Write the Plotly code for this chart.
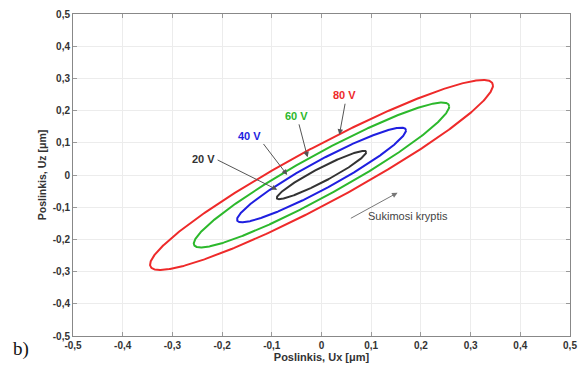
import numpy as np
import plotly.graph_objects as go

# Ellipse parameters (Ux amplitude, Uz amplitude, phase lag in degrees)
voltages = ["20 V", "40 V", "60 V", "80 V"]
amp_ux = [0.090, 0.170, 0.257, 0.345]
amp_uz = [0.075, 0.147, 0.225, 0.295]
phase_deg = [19, 19.5, 19, 19.5]
colors = ["#333333", "#1f1fe0", "#2cb82c", "#ee2a2a"]

tick_vals = [-0.5, -0.4, -0.3, -0.2, -0.1, 0, 0.1, 0.2, 0.3, 0.4, 0.5]
tick_text = ["-0,5", "-0,4", "-0,3", "-0,2", "-0,1", "0", "0,1", "0,2", "0,3", "0,4", "0,5"]

# label text position, arrow tail, arrow head (data coords)
label_pos = [(-0.238, 0.049), (-0.145, 0.122), (-0.050, 0.183), (0.046, 0.247)]
arrow_tail = [(-0.212, 0.049), (-0.119, 0.101), (-0.046, 0.162), (0.048, 0.226)]
arrow_head = [(-0.089, -0.046), (-0.069, 0.0), (-0.028, 0.055), (0.036, 0.125)]

rot_text = "Sukimosi kryptis"
rot_text_pos = (0.175, -0.128)
rot_tail = (0.056, -0.137)
rot_head = (0.153, -0.055)

t = np.linspace(0, 2 * np.pi, 600)
fig = go.Figure()
for v, a, b, p, c in zip(voltages, amp_ux, amp_uz, phase_deg, colors):
    ph = np.deg2rad(p)
    fig.add_trace(go.Scatter(x=a * np.cos(t), y=b * np.cos(t - ph), mode="lines",
                             line=dict(color=c, width=2), name=v, hoverinfo="skip"))

ann = []
for v, c, lp, tl, hd in zip(voltages, colors, label_pos, arrow_tail, arrow_head):
    ann.append(dict(x=lp[0], y=lp[1], text=f"<b>{v}</b>", showarrow=False,
                    font=dict(color=c, size=11, family="Liberation Sans, Arial"),
                    xref="x", yref="y"))
    ann.append(dict(x=hd[0], y=hd[1], ax=tl[0], ay=tl[1], axref="x", ayref="y",
                    xref="x", yref="y", text="", showarrow=True, arrowhead=2,
                    arrowsize=1.1, arrowwidth=1, arrowcolor="#555555"))
ann.append(dict(x=rot_text_pos[0], y=rot_text_pos[1], text=rot_text, showarrow=False,
                font=dict(color="#444444", size=11, family="Liberation Sans, Arial"),
                xref="x", yref="y"))
ann.append(dict(x=rot_head[0], y=rot_head[1], ax=rot_tail[0], ay=rot_tail[1], axref="x", ayref="y",
                xref="x", yref="y", text="", showarrow=True, arrowhead=2,
                arrowsize=1.1, arrowwidth=1, arrowcolor="#777777"))

axis_common = dict(range=[-0.5, 0.5], tickvals=tick_vals,
                   ticktext=[f"<b>{s}</b>" for s in tick_text],
                   showgrid=True, gridcolor="#ececec", gridwidth=1,
                   showline=True, linecolor="#888888", linewidth=1, mirror="ticks",
                   ticks="inside", ticklen=4, tickcolor="#999999", zeroline=False,
                   tickfont=dict(size=10, color="#333333", family="Liberation Sans, Arial"))

fig.update_layout(
    width=585, height=367, margin=dict(l=73, r=8, t=9, b=30),
    paper_bgcolor="white", plot_bgcolor="white", showlegend=False,
    xaxis=dict(**axis_common,
               title=dict(text="<b>Poslinkis, Ux [μm]</b>", standoff=0,
                          font=dict(size=11, color="#333333", family="Liberation Sans, Arial"))),
    yaxis=dict(**axis_common,
               title=dict(text="<b>Poslinkis, Uz [μm]</b>", standoff=4,
                          font=dict(size=10.5, color="#333333", family="Liberation Sans, Arial"))),
    annotations=ann,
)
fig.add_annotation(x=0.0, y=0.0, xref="paper", yref="paper", xanchor="left", yanchor="bottom",
                   xshift=-62, yshift=-26, text="b)", showarrow=False,
                   font=dict(size=19, color="#111111", family="Liberation Serif, Times New Roman"))
fig.write_html("out.html")
